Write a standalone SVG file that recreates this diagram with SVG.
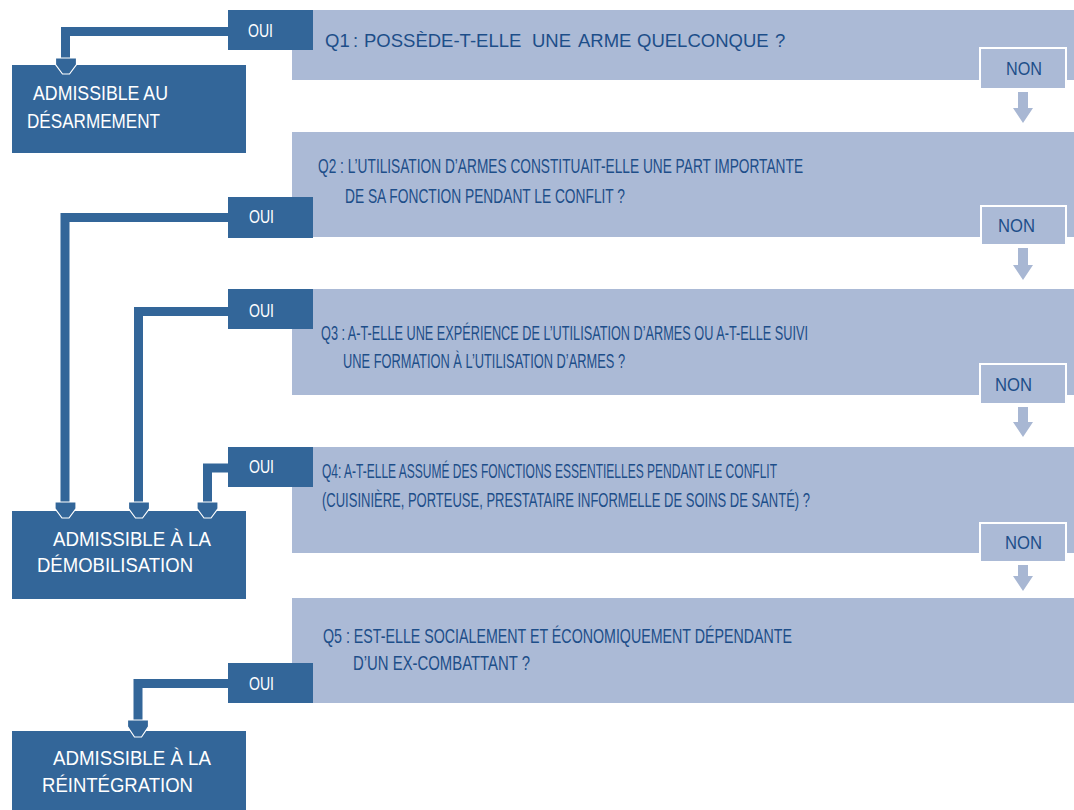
<svg xmlns="http://www.w3.org/2000/svg" width="1074" height="810" viewBox="0 0 1074 810">
<style>
.q{fill:#abbad6}
.dk{fill:#336699}
.non{fill:#abbad6;stroke:#ffffff;stroke-width:2}
.qt{font-family:"Liberation Sans",Arial,sans-serif;font-size:20px;fill:#1d4e89}
.q1t{font-family:"Liberation Sans",Arial,sans-serif;font-size:18.5px;fill:#1d4e89}
.wt{font-family:"Liberation Sans",Arial,sans-serif;font-size:20px;fill:#ffffff}
.ot{font-family:"Liberation Sans",Arial,sans-serif;font-size:18px;fill:#ffffff}
.nt{font-family:"Liberation Sans",Arial,sans-serif;font-size:19px;fill:#1d4e89}
.ln{fill:none;stroke:#336699;stroke-width:9;stroke-linejoin:miter;stroke-linecap:butt}
.hd{fill:#336699;stroke:#ffffff;stroke-width:1.2}
.na{fill:#a8b7d3}
</style>
<rect width="1074" height="810" fill="#ffffff"/>

<g id="q1">
<rect class="q" x="292" y="10" width="782" height="70"/>
<text class="q1t" y="47"><tspan x="325">Q1</tspan><tspan x="353">:</tspan><tspan x="364">POSSÈDE-T-ELLE</tspan><tspan x="532">UNE</tspan><tspan x="578">ARME</tspan><tspan x="637">QUELCONQUE</tspan><tspan x="775">?</tspan></text>
</g>
<g id="q2">
<rect class="q" x="292" y="132" width="782" height="105"/>
<text class="qt" transform="translate(318,173) scale(0.7,1)" textLength="692.9" lengthAdjust="spacingAndGlyphs">Q2 : L’UTILISATION D’ARMES CONSTITUAIT-ELLE UNE PART IMPORTANTE</text>
<text class="qt" transform="translate(345,203) scale(0.7,1)" textLength="400" lengthAdjust="spacingAndGlyphs">DE SA FONCTION PENDANT LE CONFLIT ?</text>
</g>
<g id="q3">
<rect class="q" x="292" y="289" width="782" height="106"/>
<text class="qt" transform="translate(321,340) scale(0.7,1)" textLength="695.7" lengthAdjust="spacingAndGlyphs">Q3 : A-T-ELLE UNE EXPÉRIENCE DE L’UTILISATION D’ARMES OU A-T-ELLE SUIVI</text>
<text class="qt" transform="translate(343,368) scale(0.7,1)" textLength="402.9" lengthAdjust="spacingAndGlyphs">UNE FORMATION À L’UTILISATION D’ARMES ?</text>
</g>
<g id="q4">
<rect class="q" x="292" y="447" width="782" height="106"/>
<text class="qt" transform="translate(322,478) scale(0.7,1)" textLength="650" lengthAdjust="spacingAndGlyphs">Q4: A-T-ELLE ASSUMÉ DES FONCTIONS ESSENTIELLES PENDANT LE CONFLIT</text>
<text class="qt" transform="translate(322,507) scale(0.7,1)" textLength="697.1" lengthAdjust="spacingAndGlyphs">(CUISINIÈRE, PORTEUSE, PRESTATAIRE INFORMELLE DE SOINS DE SANTÉ) ?</text>
</g>
<g id="q5">
<rect class="q" x="292" y="598" width="782" height="105"/>
<text class="qt" transform="translate(323,643) scale(0.7,1)" textLength="670" lengthAdjust="spacingAndGlyphs">Q5 : EST-ELLE SOCIALEMENT ET ÉCONOMIQUEMENT DÉPENDANTE</text>
<text class="qt" transform="translate(353,670) scale(0.7,1)" textLength="252.9" lengthAdjust="spacingAndGlyphs">D’UN EX-COMBATTANT ?</text>
</g>

<g id="non1">
<rect class="non" x="980" y="48" width="86" height="41"/>
<text class="nt" x="1006" y="75" textLength="36" lengthAdjust="spacingAndGlyphs">NON</text>
</g>
<g id="non2">
<rect class="non" x="981" y="206" width="85" height="39"/>
<text class="nt" x="998" y="232" textLength="37" lengthAdjust="spacingAndGlyphs">NON</text>
</g>
<g id="non3">
<rect class="non" x="980" y="364" width="86" height="40"/>
<text class="nt" x="995" y="391" textLength="37" lengthAdjust="spacingAndGlyphs">NON</text>
</g>
<g id="non4">
<rect class="non" x="980" y="523" width="86" height="39"/>
<text class="nt" x="1005" y="549" textLength="37" lengthAdjust="spacingAndGlyphs">NON</text>
</g>

<g id="oui1"><rect class="dk" x="228" y="10" width="85" height="40"/><text class="ot" x="248" y="37" textLength="25" lengthAdjust="spacingAndGlyphs">OUI</text></g>
<g id="oui2"><rect class="dk" x="228" y="197" width="85" height="41"/><text class="ot" x="249" y="223" textLength="25" lengthAdjust="spacingAndGlyphs">OUI</text></g>
<g id="oui3"><rect class="dk" x="228" y="289" width="85" height="40"/><text class="ot" x="249" y="317" textLength="25" lengthAdjust="spacingAndGlyphs">OUI</text></g>
<g id="oui4"><rect class="dk" x="228" y="447" width="85" height="40"/><text class="ot" x="249" y="473" textLength="25" lengthAdjust="spacingAndGlyphs">OUI</text></g>
<g id="oui5"><rect class="dk" x="228" y="663" width="85" height="40"/><text class="ot" x="249" y="690" textLength="25" lengthAdjust="spacingAndGlyphs">OUI</text></g>

<g id="res1">
<rect class="dk" x="12" y="65" width="234" height="88"/>
<text class="wt" x="33" y="100" textLength="135" lengthAdjust="spacingAndGlyphs">ADMISSIBLE AU</text>
<text class="wt" x="27" y="128" textLength="133" lengthAdjust="spacingAndGlyphs">DÉSARMEMENT</text>
</g>
<g id="res2">
<rect class="dk" x="12" y="511" width="234" height="88"/>
<text class="wt" x="53" y="546" textLength="158" lengthAdjust="spacingAndGlyphs">ADMISSIBLE À LA</text>
<text class="wt" x="37" y="572" textLength="156" lengthAdjust="spacingAndGlyphs">DÉMOBILISATION</text>
</g>
<g id="res3">
<rect class="dk" x="12" y="731" width="234" height="79"/>
<text class="wt" x="53" y="765" textLength="158" lengthAdjust="spacingAndGlyphs">ADMISSIBLE À LA</text>
<text class="wt" x="42" y="792" textLength="151" lengthAdjust="spacingAndGlyphs">RÉINTÉGRATION</text>
</g>

<g id="connectors">
<polyline class="ln" points="228,31.5 65.5,31.5 65.5,59"/>
<polygon class="hd" points="55.5,58 76.5,58 76.5,64.5 69.5,74 62.5,74 55.5,64.5"/>

<polyline class="ln" points="228,217.5 65,217.5 65,503"/>
<polygon class="hd" points="55,502 76,502 76,508.5 69,518 62,518 55,508.5"/>

<polyline class="ln" points="228,311.5 138.5,311.5 138.5,503"/>
<polygon class="hd" points="128.5,502 149.5,502 149.5,508.5 142.5,518 135.5,518 128.5,508.5"/>

<polyline class="ln" points="228,468 207.5,468 207.5,503"/>
<polygon class="hd" points="197,502 218,502 218,508.5 211,518 204,518 197,508.5"/>

<polyline class="ln" points="228,683.5 138,683.5 138,721"/>
<polygon class="hd" points="127.5,720 148.5,720 148.5,726.5 141.5,737 134.5,737 127.5,726.5"/>

<polygon class="na" points="1018,92 1028,92 1028,108 1033,108 1023,123 1013,108 1018,108"/>
<polygon class="na" points="1018,248 1028,248 1028,265 1033,265 1023,280 1013,265 1018,265"/>
<polygon class="na" points="1018,407 1028,407 1028,422 1033,422 1023,437 1013,422 1018,422"/>
<polygon class="na" points="1018,565 1028,565 1028,576 1033,576 1023,591 1013,576 1018,576"/>
</g>
</svg>
